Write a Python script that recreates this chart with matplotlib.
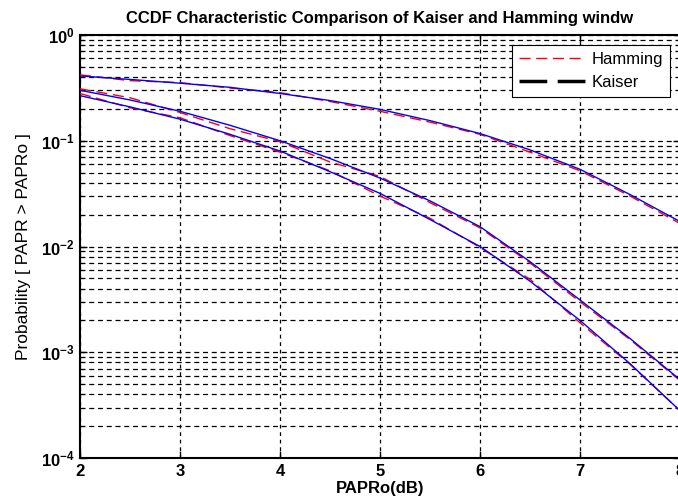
import matplotlib
matplotlib.use("Agg")
import matplotlib.pyplot as plt
from matplotlib.lines import Line2D
from matplotlib.ticker import FixedLocator, FuncFormatter, LogLocator, NullFormatter

papr0 = [2.0, 2.5, 3.0, 3.5, 4.0, 4.5, 5.0, 5.5, 6.0, 6.5, 7.0, 7.5, 8.0]

kaiser_a = [0.41, 0.38, 0.35, 0.32, 0.28, 0.24, 0.198, 0.155, 0.117, 0.082, 0.0537, 0.031, 0.0172]
kaiser_b = [0.30, 0.243, 0.19, 0.14, 0.10, 0.068, 0.0444, 0.027, 0.0154, 0.0072, 0.00312, 0.00135, 0.00055]
kaiser_c = [0.267, 0.209, 0.16, 0.115, 0.08, 0.051, 0.0318, 0.018, 0.010, 0.0047, 0.0020, 0.00078, 0.00028]

hamming_a = [0.42, 0.37, 0.355, 0.315, 0.285, 0.235, 0.19, 0.15, 0.115, 0.078, 0.052, 0.030, 0.0165]
hamming_b = [0.31, 0.255, 0.185, 0.13, 0.098, 0.063, 0.046, 0.026, 0.0150, 0.0070, 0.0030, 0.00132, 0.00054]
hamming_c = [0.28, 0.205, 0.165, 0.112, 0.078, 0.052, 0.030, 0.0185, 0.0098, 0.0049, 0.0019, 0.00077, 0.00028]

xticks = [2, 3, 4, 5, 6, 7, 8]
yticks = [1e-4, 1e-3, 1e-2, 1e-1, 1e0]
ytick_labels = ["10^{-4}", "10^{-3}", "10^{-2}", "10^{-1}", "10^{0}"]

title = "CCDF Characteristic Comparison of Kaiser and Hamming windw"
xlabel = "PAPRo(dB)"
ylabel = "Probability [ PAPR > PAPRo ]"

plt.rcParams["font.family"] = ["Liberation Sans", "DejaVu Sans"]
plt.rcParams["mathtext.fontset"] = "custom"
plt.rcParams["mathtext.rm"] = "Liberation Sans:bold"
plt.rcParams["mathtext.bf"] = "Liberation Sans:bold"
plt.rcParams["mathtext.it"] = "Liberation Sans:bold"

fig = plt.figure(figsize=(6.78, 5.0), dpi=100)
ax = fig.add_axes([80 / 678, 42 / 500, 600 / 678, 423 / 500])

for y in (hamming_a, hamming_b, hamming_c):
    ax.plot(papr0, y, color="red", lw=1.0, dashes=(8, 4), zorder=3)
for y in (kaiser_a, kaiser_b, kaiser_c):
    ax.plot(papr0, y, color="blue", lw=1.0, zorder=4)

ax.set_yscale("log")
ax.set_xlim(2, 8)
ax.set_ylim(1e-4, 1)

ax.xaxis.set_major_locator(FixedLocator(xticks))
ax.yaxis.set_major_locator(FixedLocator(yticks))
lab = dict(zip(yticks, ytick_labels))
ax.yaxis.set_major_formatter(FuncFormatter(lambda v, p: "$\\mathbf{%s}$" % lab.get(v, "")))
ax.yaxis.set_minor_locator(LogLocator(base=10, subs=range(2, 10)))
ax.yaxis.set_minor_formatter(NullFormatter())

ax.tick_params(axis="both", which="both", direction="in", top=True, right=True)
ax.tick_params(axis="both", which="major", length=5, width=1, labelsize=12, pad=4)
ax.tick_params(axis="y", which="minor", length=3, width=0.8)
for t in ax.get_xticklabels():
    t.set_fontweight("bold")

ax.grid(True, which="major", axis="x", color="black", lw=0.9, dashes=(3, 3))
ax.grid(True, which="both", axis="y", color="black", lw=0.9, dashes=(4, 3))
ax.set_axisbelow(True)
for s in ax.spines.values():
    s.set_linewidth(1.5)

ax.set_title(title, fontsize=12, fontweight="bold", pad=9)
ax.set_xlabel(xlabel, fontsize=12, fontweight="bold", labelpad=2)
ax.set_ylabel(ylabel, fontsize=12.5, labelpad=7)

handles = [
    Line2D([], [], color="red", lw=1.0, dashes=(8, 4)),
    Line2D([], [], color="black", lw=2.5, dashes=(8, 3)),
]
leg = ax.legend(handles, ["Hamming", "Kaiser"], loc="upper right",
                handlelength=4.0, handletextpad=0.4, frameon=True, fancybox=False,
                edgecolor="black", framealpha=1, borderaxespad=0.6,
                prop={"size": 12})
leg.get_frame().set_linewidth(0.8)

fig.savefig("out.png", dpi=100)
